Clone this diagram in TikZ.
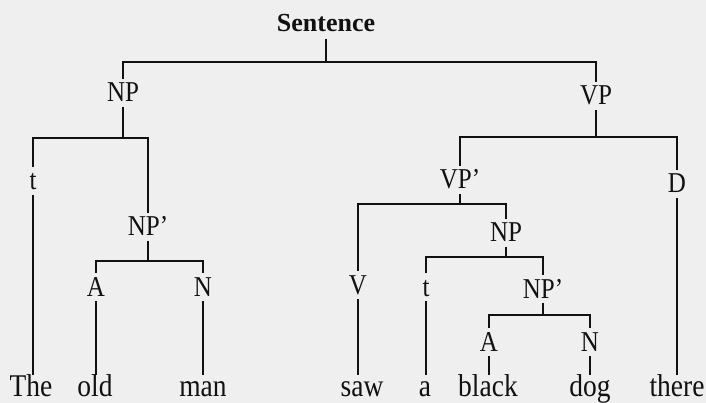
\documentclass[tikz,border=0pt]{standalone}
\usepackage{fontspec}
\setmainfont{Liberation Serif}
\usepackage{graphicx}
\definecolor{ink}{HTML}{111111}
\definecolor{paper}{HTML}{EFEFEF}
\newcommand{\vstr}[1]{\scalebox{1}[1.15]{#1}}
\begin{document}
\begin{tikzpicture}[x=1pt,y=-1pt,
  lab/.style={anchor=base, inner sep=0pt, outer sep=5pt, text height=18pt, text depth=0pt,
              font=\fontsize{25}{28}\selectfont, text=ink},
  word/.style={anchor=base, inner sep=0pt, outer sep=3pt, text height=18pt, text depth=0pt,
               font=\fontsize{27.5}{30}\selectfont, text=ink},
  root/.style={anchor=base, inner sep=0pt, outer sep=7pt, text height=17pt, text depth=0pt,
               font=\fontsize{26}{28}\selectfont\bfseries, text=ink},
  edge/.style={draw=ink, line width=1.8pt}]
\fill[paper] (0,0) rectangle (706,403);
\useasboundingbox (0,0) rectangle (706,403);

% nodes
\node[root] (S) at (326,32) {Sentence};
\node[lab] (NP1) at (123,102) {\vstr{NP}};
\node[lab] (VP) at (596,105) {\vstr{VP}};
\node[lab] (t1) at (33,190) {\vstr{t}};
\node[lab] (NPp1) at (148,236) {\vstr{NP’}};
\node[lab] (A1) at (96,296) {\vstr{A}};
\node[lab] (N1) at (203,296) {\vstr{N}};
\node[lab] (VPp) at (460,189) {\vstr{VP’}};
\node[lab] (D) at (677,193) {\vstr{D}};
\node[lab] (V) at (358,294) {\vstr{V}};
\node[lab] (NP2) at (506,242) {\vstr{NP}};
\node[lab] (t2) at (426,296) {\vstr{t}};
\node[lab] (NPp2) at (543,298) {\vstr{NP’}};
\node[lab] (A2) at (489,351) {\vstr{A}};
\node[lab] (N2) at (590,351) {\vstr{N}};

% words
\node[word] (wThe) at (31,396) {\vstr{The}};
\node[word] (wold) at (95,396) {\vstr{old}};
\node[word] (wman) at (203,396) {\vstr{man}};
\node[word] (wsaw) at (362,396) {\vstr{saw}};
\node[word] (wa) at (425,396) {\vstr{a}};
\node[word] (wblack) at (488,396) {\vstr{black}};
\node[word] (wdog) at (590,396) {\vstr{dog}};
\node[word] (wthere) at (677,396) {\vstr{there}};

% bar heights
\coordinate (bS) at (0,62);
\coordinate (bNP1) at (0,138);
\coordinate (bNPp1) at (0,261);
\coordinate (bVP) at (0,137);
\coordinate (bVPp) at (0,204);
\coordinate (bNP2) at (0,257);
\coordinate (bNPp2) at (0,315);

% branches
\draw[edge] (S.south) -- (S.south |- bS) -| (NP1.north);
\draw[edge] (S.south |- bS) -| (VP.north);
\draw[edge] (NP1.south) -- (NP1.south |- bNP1) -| (t1.north);
\draw[edge] (NP1.south |- bNP1) -| (NPp1.north);
\draw[edge] (NPp1.south) -- (NPp1.south |- bNPp1) -| (A1.north);
\draw[edge] (NPp1.south |- bNPp1) -| (N1.north);
\draw[edge] (VP.south) -- (VP.south |- bVP) -| (VPp.north);
\draw[edge] (VP.south |- bVP) -| (D.north);
\draw[edge] (VPp.south) -- (VPp.south |- bVPp) -| (V.north);
\draw[edge] (VPp.south |- bVPp) -| (NP2.north);
\draw[edge] (NP2.south) -- (NP2.south |- bNP2) -| (t2.north);
\draw[edge] (NP2.south |- bNP2) -| (NPp2.north);
\draw[edge] (NPp2.south) -- (NPp2.south |- bNPp2) -| (A2.north);
\draw[edge] (NPp2.south |- bNPp2) -| (N2.north);

% leaves
\draw[edge] (t1.south) -- (t1.south |- wThe.north);
\draw[edge] (A1.south) -- (A1.south |- wold.north);
\draw[edge] (N1.south) -- (N1.south |- wman.north);
\draw[edge] (V.south) -- (V.south |- wsaw.north);
\draw[edge] (t2.south) -- (t2.south |- wa.north);
\draw[edge] (A2.south) -- (A2.south |- wblack.north);
\draw[edge] (N2.south) -- (N2.south |- wdog.north);
\draw[edge] (D.south) -- (D.south |- wthere.north);
\end{tikzpicture}
\end{document}
